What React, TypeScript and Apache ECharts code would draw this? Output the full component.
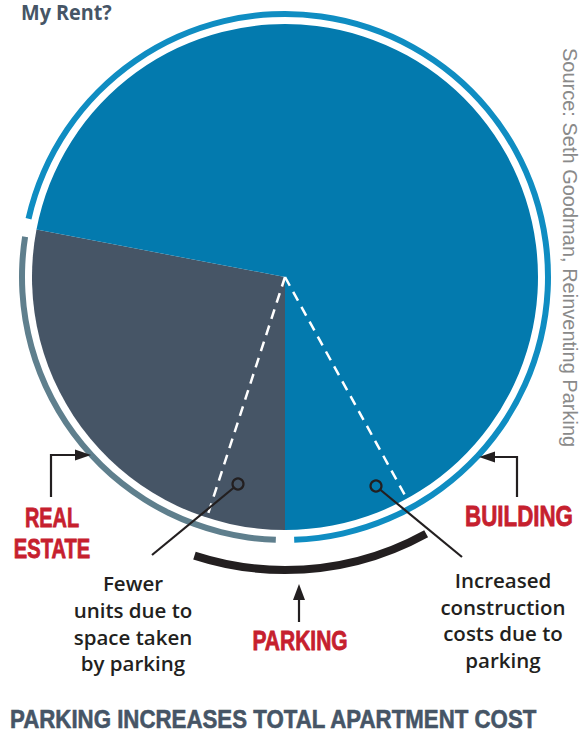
import React, { useEffect, useRef } from "react";
import * as echarts from "echarts";

// ---- data ----
const categories = ["Real Estate", "Building"];
const rentShare = [28, 72]; // % of total apartment cost
const parkingShare = [5, 8]; // % of total cost attributable to parking, inside each slice
const labelTexts = ["REAL", "ESTATE", "BUILDING", "PARKING"];
const noteLeft = ["Fewer", "units due to", "space taken", "by parking"];
const noteRight = ["Increased", "construction", "costs due to", "parking"];
const titleText = "PARKING INCREASES TOTAL APARTMENT COST";
const topText = "My Rent?";
const sourceText = "Source: Seth Goodman, Reinventing Parking";

// ---- styles ----
const CX = 285;
const CY = 277;
const R = 253;
const sliceColors = ["#465566", "#037aae"];
const ringColors = ["#5f7f8d", "#0f8dc2"];
const RED = "#c6202e";
const DARK = "#231f20";
const SLATE = "#465566";
const NARROW = '"Liberation Sans", "Noto Sans", sans-serif';
const SANS = '"Open Sans", "Noto Sans", sans-serif';

const toXY = (deg: number, r: number) => [
  CX + r * Math.sin((deg * Math.PI) / 180),
  CY - r * Math.cos((deg * Math.PI) / 180),
];

export default function App() {
  const ref = useRef<HTMLDivElement>(null);
  useEffect(() => {
    if (!ref.current) return;
    const chart = echarts.init(ref.current, null, { renderer: "svg" });
    const start = 180; // clockwise from 12 o'clock
    const reAngle = start + (parkingShare[0] / 100) * 360;
    const bAngle = start - (parkingShare[1] / 100) * 360;
    const [lx, ly] = toXY(reAngle, R - 1);
    const [rx, ry] = toXY(bAngle, R - 1);

    const textEl = (text: string, x: number, y: number, font: string, fill: string, align = "center", scaleX = 1, stroke = 0) => ({
      type: "text",
      x,
      y,
      z: 100,
      scaleX,
      silent: true,
      style: { text, font, fill, align, verticalAlign: "middle", stroke: stroke ? fill : undefined, lineWidth: stroke },
    });

    const arrowHead = (tip: number[], dir: "left" | "right" | "up") => {
      const [x, y] = tip;
      let pts: number[][];
      if (dir === "right") pts = [[x, y], [x - 16, y - 5.5], [x - 16, y + 5.5]];
      else if (dir === "left") pts = [[x, y], [x + 16, y - 5.5], [x + 16, y + 5.5]];
      else pts = [[x, y], [x - 6, y + 16], [x + 6, y + 16]];
      return { type: "polygon", z: 100, silent: true, shape: { points: pts }, style: { fill: DARK } };
    };

    const lineStyle = { stroke: DARK, lineWidth: 2.2 };
    const graphics: any[] = [
      { type: "line", z: 100, silent: true, shape: { x1: CX, y1: CY, x2: lx, y2: ly }, style: { stroke: "#fff", lineWidth: 2.5, lineDash: [10, 7] } },
      { type: "line", z: 100, silent: true, shape: { x1: CX, y1: CY, x2: rx, y2: ry }, style: { stroke: "#fff", lineWidth: 2.5, lineDash: [10, 7] } },
      // annotation markers
      { type: "circle", z: 100, silent: true, shape: { cx: 238, cy: 484, r: 5.5 }, style: { fill: "none", stroke: DARK, lineWidth: 2.2 } },
      { type: "circle", z: 100, silent: true, shape: { cx: 376, cy: 486, r: 5.5 }, style: { fill: "none", stroke: DARK, lineWidth: 2.2 } },
      { type: "line", z: 100, silent: true, shape: { x1: 234, y1: 487.5, x2: 152, y2: 555 }, style: lineStyle },
      { type: "line", z: 100, silent: true, shape: { x1: 380, y1: 489.5, x2: 462, y2: 557 }, style: lineStyle },
      // arrows
      { type: "polyline", z: 100, silent: true, shape: { points: [[51, 497], [51, 455], [76, 455]] }, style: { ...lineStyle, fill: "none" } },
      arrowHead([91, 455], "right"),
      { type: "polyline", z: 100, silent: true, shape: { points: [[517, 497], [517, 457], [494, 457]] }, style: { ...lineStyle, fill: "none" } },
      arrowHead([479, 457], "left"),
      { type: "line", z: 100, silent: true, shape: { x1: 299, y1: 622, x2: 299, y2: 598 }, style: lineStyle },
      arrowHead([299, 584], "up"),
      // labels
      textEl(labelTexts[0], 52, 517, `bold 28px ${NARROW}`, RED, "center", 0.71, 0.8),
      textEl(labelTexts[1], 52, 548, `bold 28px ${NARROW}`, RED, "center", 0.72, 0.8),
      textEl(labelTexts[2], 519, 516, `bold 30px ${NARROW}`, RED, "center", 0.745, 0.8),
      textEl(labelTexts[3], 300, 640, `bold 28px ${NARROW}`, RED, "center", 0.75, 0.8),
      textEl(titleText, 10, 718.5, `bold 26.5px ${NARROW}`, SLATE, "left", 0.84, 0.6),
      textEl(topText, 21, 12, `bold 22px ${SANS}`, SLATE, "left", 0.9),
      {
        type: "text",
        x: 570,
        y: 48,
        z: 100,
        rotation: -Math.PI / 2,
        silent: true,
        style: { text: sourceText, font: `20px "Liberation Sans", sans-serif`, fill: "#8a8a8a", align: "left", verticalAlign: "middle" },
      },
    ];
    const leftYs = [583, 610, 637, 663];
    const rightYs = [580, 607, 633, 660];
    noteLeft.forEach((t, i) => graphics.push(textEl(t, 133, leftYs[i], `600 20.5px ${SANS}`, DARK)));
    noteRight.forEach((t, i) => graphics.push(textEl(t, 503, rightYs[i], `600 20.5px ${SANS}`, DARK)));

    const common = {
      type: "pie",
      center: [CX, CY],
      startAngle: 90 - start,
      clockwise: true,
      silent: true,
      label: { show: false },
      labelLine: { show: false },
      emphasis: { disabled: true },
    };

    chart.setOption({
      animation: false,
      series: [
        {
          ...common,
          radius: R,
          data: categories.map((c, i) => ({ name: c, value: rentShare[i], itemStyle: { color: sliceColors[i] } })),
        },
        {
          ...common,
          radius: [260, 266],
          padAngle: 4,
          data: categories.map((c, i) => ({ name: c + " ring", value: rentShare[i], itemStyle: { color: ringColors[i] } })),
        },
        {
          ...common,
          radius: [289, 297],
          data: [
            { name: "Parking (real estate)", value: parkingShare[0], itemStyle: { color: DARK } },
            { name: "rest RE", value: rentShare[0] - parkingShare[0], itemStyle: { color: "rgba(0,0,0,0)" } },
            { name: "rest B", value: rentShare[1] - parkingShare[1], itemStyle: { color: "rgba(0,0,0,0)" } },
            { name: "Parking (building)", value: parkingShare[1], itemStyle: { color: DARK } },
          ],
        },
      ],
      graphic: graphics,
    });
    return () => chart.dispose();
  }, []);
  return <div ref={ref} style={{ position: "absolute", left: 0, top: 0, width: 582, height: 732 }} />;
}
